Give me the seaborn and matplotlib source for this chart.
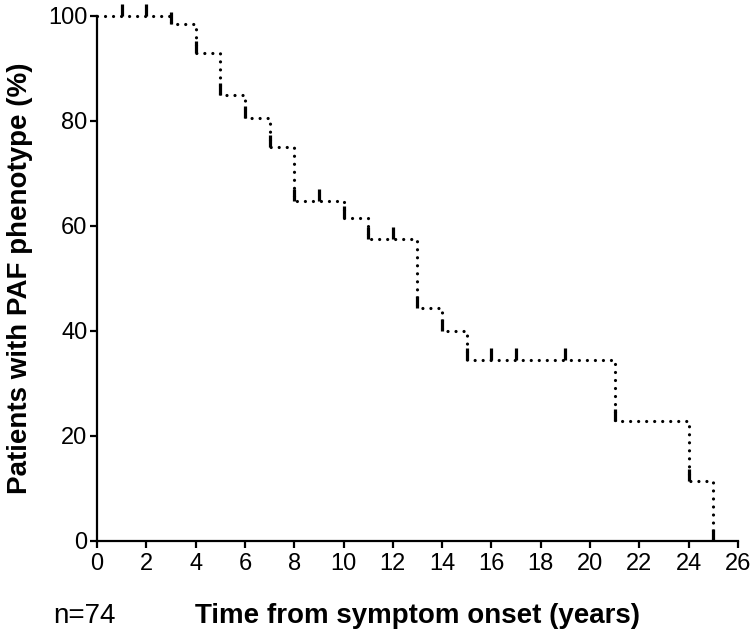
import numpy as np
import seaborn as sns
import matplotlib.pyplot as plt

# Kaplan-Meier style steps
times = [0, 3, 4, 5, 6, 7, 8, 10, 11, 13, 14, 15, 21, 24, 25]
survival = [100, 98.4, 92.9, 85.0, 80.6, 75.1, 64.8, 61.5, 57.5, 44.4, 40.0, 34.4, 22.9, 11.4, 0]
censor_times = [1, 2, 3, 4, 5, 6, 7, 8, 9, 10, 11, 12, 13, 14, 15, 16, 17, 19, 21, 24, 25]
x_ticks = list(range(0, 27, 2))
y_ticks = [0, 20, 40, 60, 80, 100]
n_label = "n=74"


def step_value(t):
    idx = np.searchsorted(times, t, side="right") - 1
    return survival[idx]


def main():
    sns.set_style("ticks")
    plt.rcParams["font.family"] = ["Liberation Sans", "DejaVu Sans"]
    plt.rcParams["font.size"] = 16
    plt.rcParams["text.color"] = "black"
    plt.rcParams["axes.labelcolor"] = "black"

    fig, ax = plt.subplots(figsize=(7.5, 6.34), dpi=100)
    ax.set_position([0.1293, 0.1467, 0.8547, 0.8281])

    sns.lineplot(x=times, y=survival, ax=ax, color="black", lw=2.3,
                 drawstyle="steps-post", linestyle=(0, (0.01, 2.5)),
                 dash_capstyle="round", clip_on=False)

    levels = [step_value(t) for t in censor_times]
    ax.vlines(censor_times, levels, [v + 2.3 for v in levels], color="black",
              lw=2.3, clip_on=False)

    ax.set_xlim(0, 26)
    ax.set_ylim(0, 100)
    ax.set_xticks(x_ticks)
    ax.set_yticks(y_ticks)
    for side in ["top", "right"]:
        ax.spines[side].set_visible(False)
    for side in ["left", "bottom"]:
        ax.spines[side].set_linewidth(1.6)
        ax.spines[side].set_color("black")
    ax.tick_params(axis="both", length=5, width=1.6, color="black",
                   labelsize=17, labelcolor="black")
    ax.tick_params(axis="y", pad=2)

    ax.set_xlabel("Time from symptom onset (years)", fontsize=20,
                  fontweight="bold", labelpad=20, color="black")
    ax.set_ylabel("Patients with PAF phenotype (%)", fontsize=20,
                  fontweight="bold", labelpad=11, color="black")

    fig.text(53 / 750, 1 - 623 / 634, n_label, fontsize=20, va="baseline",
             color="black")

    fig.savefig("out.png", dpi=100)
    plt.close(fig)


if __name__ == "__main__":
    main()
